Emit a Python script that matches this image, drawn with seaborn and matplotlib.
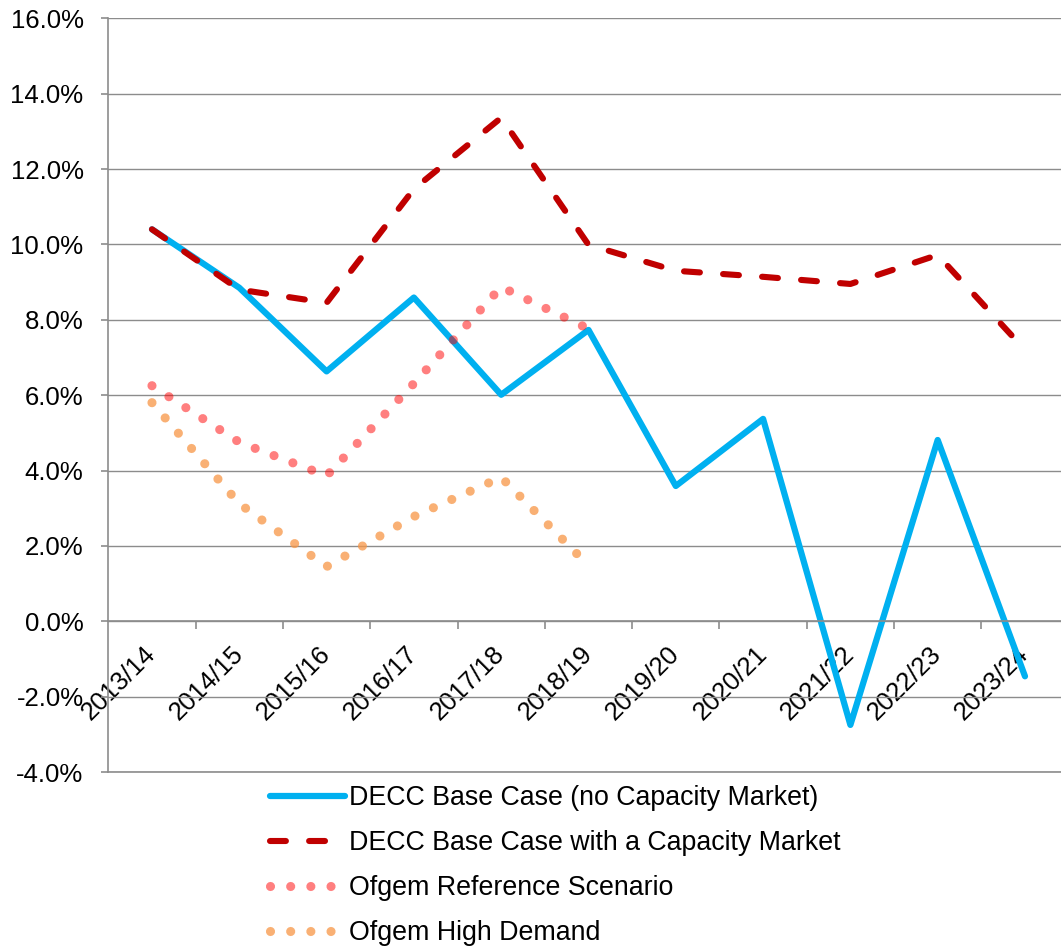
import numpy as np
import pandas as pd
import seaborn as sns
import matplotlib.pyplot as plt
from matplotlib.ticker import FuncFormatter

# Data (values in %)
seasons = ['2013/14', '2014/15', '2015/16', '2016/17', '2017/18', '2018/19',
           '2019/20', '2020/21', '2021/22', '2022/23', '2023/24']
decc_base = [10.40, 8.85, 6.63, 8.59, 6.01, 7.73, 3.59, 5.37, -2.75, 4.81, -1.46]
decc_cm = [10.40, 8.80, 8.45, 11.47, 13.36, 9.99, 9.30, 9.14, 8.95, 9.72, 7.20]
ofgem_ref = [6.25, 4.75, 3.86, 6.31, 8.87, 7.76]
ofgem_high = [5.80, 3.12, 1.45, 2.78, 3.82, 1.48]

sns.set_style('white')
plt.rcParams['font.family'] = ['Liberation Sans', 'DejaVu Sans']
plt.rcParams['text.color'] = 'black'
fs = 18.5
grey = '#8c8c8c'

fig = plt.figure(figsize=(10.61, 9.46), dpi=100)
ax = fig.add_axes([0.1021, 0.1839, 0.9051, 0.7968])

sns.lineplot(x=seasons, y=decc_base, ax=ax, sort=False, color='#00B0F0', lw=4.5,
             label='DECC Base Case (no Capacity Market)')
sns.lineplot(x=seasons, y=decc_cm, ax=ax, sort=False, color='#C00000', lw=4.4,
             linestyle=(0, (2.6, 3.8)), dash_capstyle='round',
             label='DECC Base Case with a Capacity Market')
sns.lineplot(x=seasons[:len(ofgem_ref)], y=ofgem_ref, ax=ax, sort=False,
             color='#FF0000', alpha=0.5, lw=6.6,
             linestyle=(0, (0.001, 2.2)), dash_capstyle='round',
             label='Ofgem Reference Scenario')
sns.lineplot(x=seasons[:len(ofgem_high)], y=ofgem_high, ax=ax, sort=False,
             color='#F79646', alpha=0.75, lw=6.6,
             linestyle=(0, (0.001, 2.2)), dash_capstyle='round',
             label='Ofgem High Demand')

# axes styling
ax.set_xlim(-0.5, 10.5)
ax.set_ylim(-4, 16)
ax.set_yticks(np.arange(-4, 17, 2))
ax.yaxis.set_major_formatter(FuncFormatter(lambda v, p: f'{v:.1f}%'))
ax.grid(axis='y', color=grey, lw=1.0)
ax.grid(axis='x', visible=False)
ax.axhline(-4, color=grey, lw=1.2, clip_on=False, zorder=0.5)
ax.set_xlabel('')
ax.set_ylabel('')

for s in ['top', 'right']:
    ax.spines[s].set_visible(False)
ax.spines['left'].set_color(grey)
ax.spines['left'].set_linewidth(1.2)
ax.spines['bottom'].set_color(grey)
ax.spines['bottom'].set_linewidth(1.2)
ax.spines['bottom'].set_position(('data', 0))

ax.tick_params(axis='y', which='major', left=True, length=5.3, color=grey,
               width=1.2, pad=12.5, labelsize=fs, labelcolor='black')
ax.set_xticks(range(len(seasons)))
ax.set_xticks(np.arange(0.5, len(seasons) - 1, 1), minor=True)
ax.tick_params(axis='x', which='major', length=0, pad=21, labelsize=fs,
               labelcolor='black')
ax.tick_params(axis='x', which='minor', bottom=True, length=5.8, color=grey, width=1.2)
for lab in ax.get_xticklabels():
    lab.set_rotation(45)
    lab.set_ha('right')
    lab.set_va('center')
    lab.set_rotation_mode('anchor')

handles, labels = ax.get_legend_handles_labels()
leg = ax.legend(handles, labels, loc='upper left',
                bbox_to_anchor=(270 / 1061, 1 - 785 / 946),
                bbox_transform=fig.transFigure, frameon=False, fontsize=19.3,
                handlelength=2.8, handletextpad=0.15, labelspacing=0.71,
                borderpad=0, borderaxespad=0)
for t in leg.get_texts():
    t.set_color('black')

fig.savefig('out.png', dpi=100)
